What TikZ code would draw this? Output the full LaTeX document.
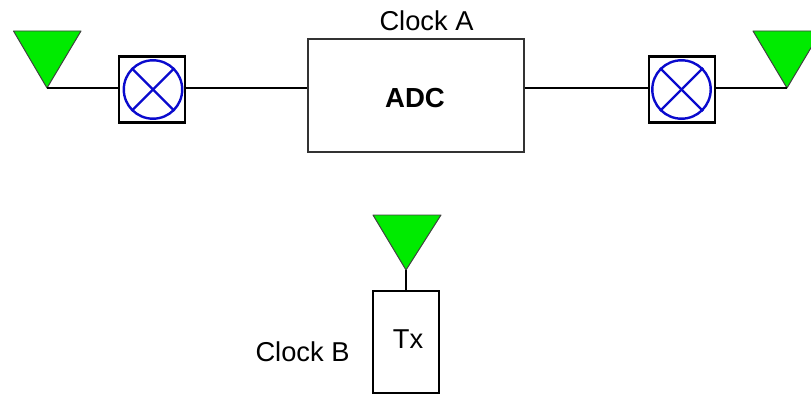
\documentclass[tikz,border=0pt]{standalone}
\usepackage{fontspec}
\setmainfont{Liberation Sans}
\definecolor{antgreen}{RGB}{0,235,0}
\definecolor{mixblue}{RGB}{10,10,205}
\tikzset{
	lbl/.style={inner sep=0pt, font=\fontsize{19.4}{22}\selectfont},
	antenna/.style={draw=black!75, line width=0.7pt, fill=antgreen, line join=round},
	feed/.style={line width=1.6pt},
	mixbox/.style={draw, line width=1.7pt, minimum size=1.65cm, inner sep=0pt},
	mixcirc/.style={draw=mixblue, line width=1.7pt, circle, minimum size=1.46cm, inner sep=0pt},
	adcbox/.style={draw=black!80, line width=0.9pt, minimum width=5.4cm, minimum height=2.83cm, inner sep=0pt},
	txbox/.style={draw, line width=1.7pt, minimum width=1.65cm, minimum height=2.55cm, inner sep=0pt}
}
\begin{document}
\begin{tikzpicture}[x=0.025cm, y=-0.025cm]
			\clip (0,0) rectangle (811,394);
			%blocks
			\node[adcbox] (adc) at (416,95.5) {};
			\node[lbl, font=\fontsize{19.6}{22}\selectfont\bfseries] (adclbl) at (415,98) {ADC};
			\node[lbl] (clka) at (426.5,21) {Clock A};
			\node[txbox] (tx) at (406,342) {};
			\node[lbl] (txlbl) at (408,339) {Tx};
			\node[lbl] (clkb) at (302.5,352) {Clock B};
			%mixers
			\foreach \nm/\cx/\mx in {l/152/153, r/682/681.5} {
				\node[mixbox] (\nm box) at (\cx,89.5) {};
				\node[mixcirc] (\nm mix) at (\mx,89.5) {};
				\draw[mixblue, line width=1.7pt] (\nm mix.45) -- (\nm mix.225);
				\draw[mixblue, line width=1.7pt] (\nm mix.135) -- (\nm mix.315);
			}
			%antennas
			\draw[antenna] (13.5,31) -- (81,31) -- (47,88) coordinate (lant) -- cycle;
			\draw[antenna] (753,31) -- (821,31) -- (787,88) coordinate (rant) -- cycle;
			\draw[antenna] (373,215) -- (441,215) -- (406,270) coordinate (tant) -- cycle;
			%connections
			\draw[feed] (lant) -- (lant -| lbox.west);
			\draw[feed] (lbox.east |- 0,88) -- (adc.west |- 0,88);
			\draw[feed] (adc.east |- 0,88) -- (rbox.west |- 0,88);
			\draw[feed] (rbox.east |- rant) -- (rant);
			\draw[feed] (tant) -- (tx.north -| tant);
		\end{tikzpicture}
\end{document}
